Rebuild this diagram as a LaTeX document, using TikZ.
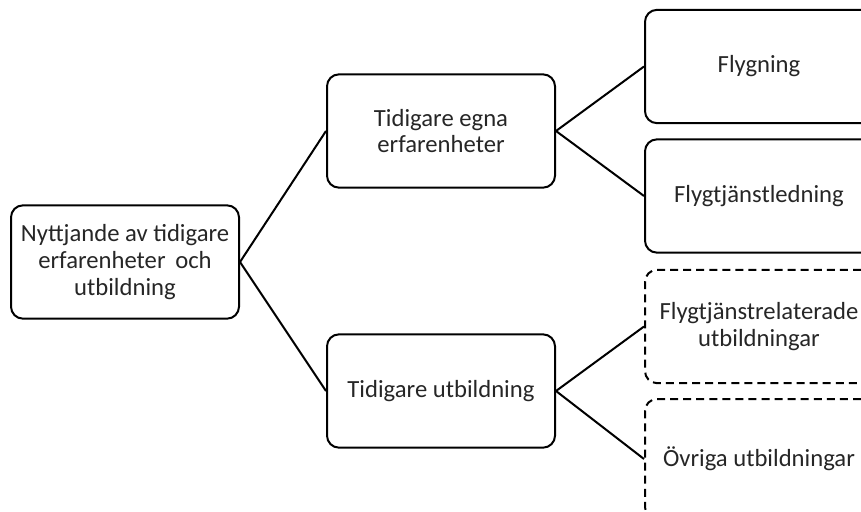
\documentclass[tikz,border=0pt]{standalone}
\usepackage{fontspec}
\setmainfont{Carlito}
\begin{document}
\begin{tikzpicture}[x=0.75pt, y=-0.75pt,
    box/.style={draw, line width=1.5pt, rounded corners=9pt, minimum width=171pt, minimum height=85pt,
                align=center, font=\fontsize{18.5}{20}\selectfont, text=black!85, inner sep=2pt},
    dashbox/.style={box, dash pattern=on 6pt off 3.8pt},
    link/.style={line width=1.5pt}]
    \path[use as bounding box, clip] (0,0) rectangle (861,511);

    % root:
    \node[box] (nyttjande) at (125,262) {Nyttjande av tidigare\\erfarenheter\, och\\utbildning};

    % middle level:
    \node[box] (egna) at (441,131) {Tidigare egna\\erfarenheter};
    \node[box] (utb) at (441,391) {Tidigare utbildning};

    % leaves:
    \node[box] (flygning) at (759,66.5) {Flygning};
    \node[box] (ledning) at (759,196) {Flygtjänstledning};
    \node[dashbox] (relaterade) at (759,326.5) {Flygtjänstrelaterade\\utbildningar};
    \node[dashbox, minimum height=90pt] (ovriga) at (759,459) {Övriga utbildningar};

    % lines:
    \draw[link] (nyttjande.east) -- (egna.west);
    \draw[link] (nyttjande.east) -- (utb.west);
    \draw[link] (egna.east) -- (flygning.west);
    \draw[link] (egna.east) -- (ledning.west);
    \draw[link] (utb.east) -- (relaterade.west);
    \draw[link] (utb.east) -- (ovriga.west);
\end{tikzpicture}
\end{document}
